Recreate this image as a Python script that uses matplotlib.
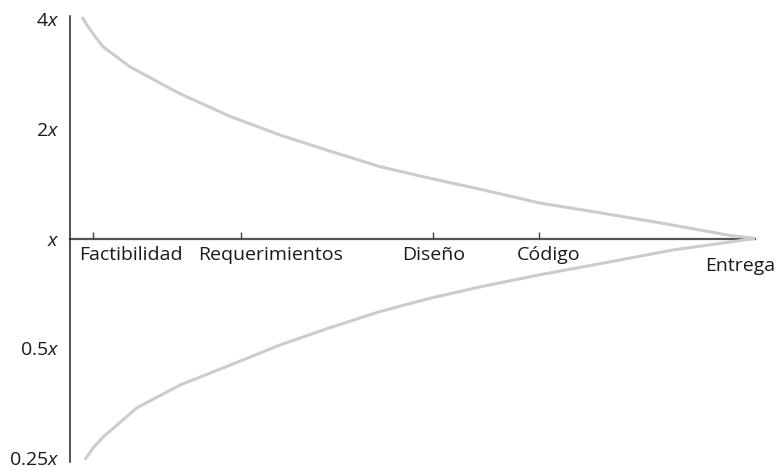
import numpy as np
import matplotlib.pyplot as plt

# Cone of uncertainty
# ----------------------------------------------------------------------------------------------
plt.rcParams['font.family'] = 'Open Sans'
plt.rcParams['mathtext.fontset'] = 'custom'
plt.rcParams['mathtext.rm'] = 'Open Sans'
plt.rcParams['mathtext.it'] = 'Open Sans:italic'

# Phases (position along project, 0..100) and labels
phases = ['Factibilidad', 'Requerimientos', 'Diseño', 'Código', 'Entrega']
phase_x = [3.3, 24.9, 53.0, 68.4, 100.0]
label_x = [8.8, 29.3, 53.0, 69.9, 97.8]

# Y axis ticks (multiples of x)
ytick_vals = [0.25, 0.5, 1, 2, 4]
ytick_labels = ['0.25$\\it{x}$', '0.5$\\it{x}$', '$\\it{x}$', '2$\\it{x}$', '4$\\it{x}$']

# Upper bound of estimate
upper_x = [1.7, 2.4, 3.6, 4.75, 8.7, 16.0, 23.3, 30.6, 37.9, 45.2, 52.5, 59.8, 68.6, 76.9, 86.6, 96.3, 100.0]
upper_y = [4.04, 3.84, 3.57, 3.35, 2.95, 2.49, 2.16, 1.92, 1.735, 1.573, 1.462, 1.365, 1.25, 1.18, 1.10, 1.02, 1.0]

# Lower bound of estimate
lower_x = [2.1, 3.3, 4.75, 9.7, 16.0, 23.3, 30.6, 37.9, 45.2, 52.5, 59.8, 68.6, 76.9, 88.0, 100.0]
lower_y = [0.248, 0.267, 0.286, 0.344, 0.397, 0.45, 0.511, 0.570, 0.631, 0.686, 0.737, 0.796, 0.85, 0.93, 1.0]

fig = plt.figure(figsize=(7.83, 4.75), dpi=100)
ax = fig.add_axes([0.0900, 0.0274, 0.8742, 0.9389])

curve_col = '#cccccc'
ax.plot(upper_x, upper_y, color=curve_col, lw=2.2, clip_on=False, solid_capstyle='butt')
ax.plot(lower_x, lower_y, color=curve_col, lw=2.2, clip_on=False, solid_capstyle='butt')

ax.set_yscale('log', base=2)
ax.set_ylim(2**-2.032, 2**2.023)
ax.set_xlim(0, 100)

# axes
ax.spines['top'].set_visible(False)
ax.spines['right'].set_visible(False)
ax.spines['left'].set_color('#222222')
ax.spines['left'].set_linewidth(1.1)
ax.spines['bottom'].set_position(('data', 1))
ax.spines['bottom'].set_color('#555555')
ax.spines['bottom'].set_linewidth(1.6)
ax.spines['bottom'].set_zorder(1)

ax.set_xticks(phase_x[:-1])
ax.set_xticklabels([])
ax.tick_params(axis='x', direction='in', length=4.7, width=1.0, color='#444444')

ax.set_yticks(ytick_vals)
ax.set_yticklabels(ytick_labels)
ax.yaxis.set_minor_locator(plt.NullLocator())
ax.tick_params(axis='y', length=0, pad=8, labelsize=14, labelcolor='#1a1a1a')

for i in range(len(phases)):
    dy = -19.5 if phases[i] == 'Entrega' else -12
    ax.annotate(phases[i], xy=(label_x[i], 1), xytext=(0, dy), textcoords='offset points',
                ha='center', va='center', fontsize=14, color='#1a1a1a', annotation_clip=False)

plt.savefig('out.png', dpi=100)
